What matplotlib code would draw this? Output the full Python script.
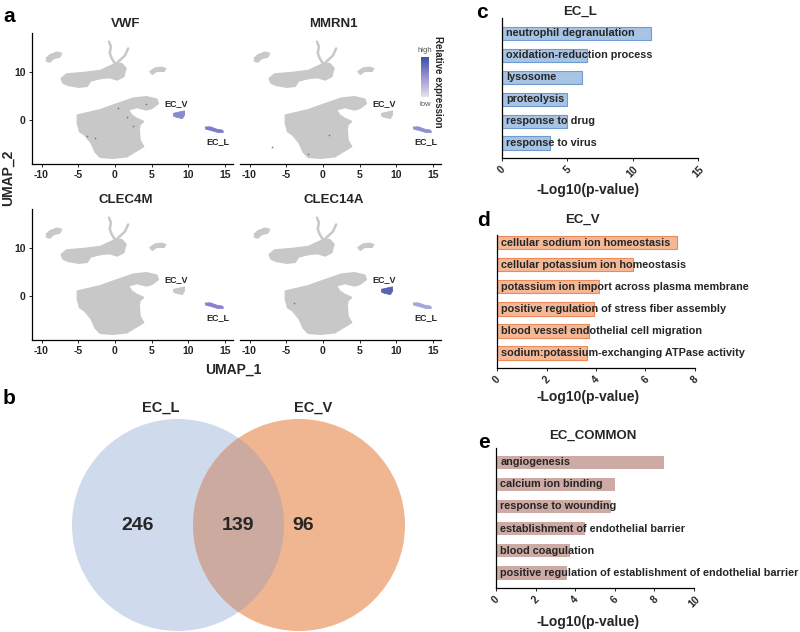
import matplotlib
matplotlib.use("Agg")
import matplotlib.pyplot as plt
import numpy as np
from matplotlib.patches import Polygon, Circle
from matplotlib.colors import LinearSegmentedColormap

plt.rcParams['font.family'] = ['Liberation Sans', 'DejaVu Sans']
plt.rcParams['font.weight'] = 'bold'
plt.rcParams['axes.linewidth'] = 0.9
plt.rcParams['axes.unicode_minus'] = False

W, H = 800, 632

# ---------------- data ----------------
# UMAP cluster outlines (data coords)
main_cluster = [(-5.1, 1.0), (-2.0, 2.1), (0.2, 3.3), (2.5, 4.5), (4.3, 4.8), (5.7, 4.3),
                (5.9, 3.4), (5.0, 2.4), (4.3, 2.1), (3.0, 2.6), (1.8, 2.1), (2.3, 1.0),
                (3.0, 0.3), (3.9, -0.3), (3.4, -1.0), (3.3, -2.1), (3.4, -4.1), (3.9, -5.5),
                (2.7, -6.6), (1.6, -7.6), (-0.2, -7.9), (-2.0, -7.7), (-2.7, -6.6),
                (-3.2, -4.8), (-4.1, -3.1), (-4.8, -2.4), (-5.1, -0.7)]
upper_cluster = [(-7.3, 8.6), (-6.6, 9.5), (-4.3, 9.8), (-2.0, 10.2), (-0.9, 11.0), (0.0, 11.6),
                 (0.9, 11.7), (1.5, 10.7), (1.2, 9.0), (0.3, 8.3), (-0.7, 8.8), (-2.0, 8.6),
                 (-3.3, 8.1), (-3.8, 7.0), (-4.9, 6.8), (-6.4, 7.2), (-7.1, 7.7)]
small_left = [(-9.3, 12.8), (-8.9, 13.4), (-8.0, 14.0), (-7.3, 13.8), (-7.5, 13.1),
              (-8.4, 12.7), (-8.9, 12.0), (-9.3, 12.2)]
small_right = [(4.8, 10.0), (5.45, 10.7), (6.4, 10.9), (6.9, 10.6), (6.7, 10.1), (5.7, 10.1), (5.1, 9.5)]
strand_up = [(-0.8, 16.2), (-0.55, 15.2), (-0.7, 13.8), (-0.45, 12.8), (0.0, 11.7)]
strand_diag = [(1.8, 14.8), (1.4, 13.4), (0.7, 12.4), (0.2, 11.7)]
ec_v_cluster = [(8.0, 1.4), (8.9, 1.7), (9.5, 1.9), (9.5, 1.0), (9.2, 0.3), (8.4, 0.55), (8.0, 0.8)]
ec_l_cluster = [(12.3, -1.45), (13.0, -1.4), (13.9, -1.9), (14.7, -2.1), (14.8, -2.55),
                (14.1, -2.6), (13.2, -2.2), (12.4, -1.9)]

genes = ['VWF', 'MMRN1', 'CLEC4M', 'CLEC14A']
# colour of EC_V and EC_L per gene
ec_v_color = ['#8A8ACC', '#C8C8C8', '#C8C8C8', '#5565B2']
ec_l_color = ['#7D7CCB', '#8F8FD2', '#8A80D0', '#A3A7DA']
# a few sparse expressing cells
stray_x = {'VWF': [0.45, 1.6, 2.5, -3.8, -2.7, 4.3], 'MMRN1': [-6.9, -2.0, 0.8], 'CLEC4M': [], 'CLEC14A': [-4.0]}
stray_y = {'VWF': [2.4, 0.55, -1.2, -3.3, -3.8, 3.3], 'MMRN1': [-5.5, -7.0, -3.0], 'CLEC4M': [], 'CLEC14A': [-1.5]}

# GO panels
go_c_terms = ['neutrophil degranulation', 'oxidation-reduction process', 'lysosome',
              'proteolysis', 'response to drug', 'response to virus']
go_c_vals = [11.4, 6.47, 6.09, 5.0, 4.94, 3.7]
go_d_terms = ['cellular sodium ion homeostasis', 'cellular potassium ion homeostasis',
              'potassium ion import across plasma membrane',
              'positive regulation of stress fiber assembly',
              'blood vessel endothelial cell migration',
              'sodium:potassium-exchanging ATPase activity']
go_d_vals = [7.27, 5.49, 4.14, 3.92, 3.70, 3.62]
go_e_terms = ['angiogenesis', 'calcium ion binding', 'response to wounding',
              'establishment of endothelial barrier', 'blood coagulation',
              'positive regulation of establishment of endothelial barrier']
go_e_vals = [8.5, 6.03, 5.83, 4.49, 3.76, 3.61]

venn_sets = ['EC_L', 'EC_V']
venn_counts = [246, 139, 96]

fig = plt.figure(figsize=(8, 6.32), dpi=100)


def px_axes(l, t, r, b):
    return fig.add_axes([l / W, 1 - b / H, (r - l) / W, (b - t) / H])


def ftext(x, y, s, **kw):
    fig.text(x / W, 1 - y / H, s, **kw)


grey = '#C8C8C8'
txt = '#262626'

# ---------------- panel a ----------------
umap_boxes = [(32, 33, 233, 164), (240, 33, 441, 164), (32, 209, 233, 340), (240, 209, 441, 340)]
for k, gene in enumerate(genes):
    ax = px_axes(*umap_boxes[k])
    for shape in [main_cluster, upper_cluster, small_left, small_right]:
        ax.add_patch(Polygon(shape, closed=True, facecolor=grey, edgecolor=grey, lw=1.2))
    for strand in [strand_up, strand_diag]:
        sx, sy = zip(*strand)
        ax.plot(sx, sy, color=grey, lw=1.8, solid_capstyle='round')
    ax.add_patch(Polygon(ec_v_cluster, closed=True, facecolor=ec_v_color[k],
                         edgecolor=ec_v_color[k], lw=0.6))
    ax.add_patch(Polygon(ec_l_cluster, closed=True, facecolor=ec_l_color[k],
                         edgecolor=ec_l_color[k], lw=0.6))
    ax.scatter(stray_x[gene], stray_y[gene], s=1.5, color='#7070C0', lw=0)
    ax.text(8.3, 3.3, 'EC_V', fontsize=6.5, ha='center', va='center', color=txt)
    ax.text(14.1, -4.5, 'EC_L', fontsize=6.5, ha='center', va='center', color=txt)
    ax.set_xlim(-11.3, 16.1)
    ax.set_ylim(-9.1, 18)
    ax.set_xticks([-10, -5, 0, 5, 10, 15])
    ax.spines['top'].set_visible(False)
    ax.spines['right'].set_visible(False)
    if k % 2 == 0:
        ax.set_yticks([0, 10])
    else:
        ax.set_yticks([])
        ax.spines['left'].set_visible(False)
    ax.tick_params(labelsize=7.5, length=2.5, width=0.7, pad=2, colors=txt)
    ax.set_facecolor('none')
    cx = (umap_boxes[k][0] + umap_boxes[k][2]) / 2 - 7
    ftext(cx, umap_boxes[k][1] - 9, gene, fontsize=9.5, ha='center', va='center', color=txt)

# colour bar
cax = px_axes(421, 57, 429, 97)
cmap = LinearSegmentedColormap.from_list('expr', ['#E2E2EA', '#9C93D2', '#3D50A6'])
cax.imshow(np.linspace(1, 0, 60).reshape(-1, 1), aspect='auto', cmap=cmap)
cax.set_xticks([])
cax.set_yticks([])
for s in cax.spines.values():
    s.set_visible(False)
ftext(425, 50, 'high', fontsize=5.5, weight='normal', ha='center', va='center', color='#555555')
ftext(425, 104, 'low', fontsize=5.5, weight='normal', ha='center', va='center', color='#555555')
ftext(438, 82, 'Relative expression', fontsize=7, rotation=-90, ha='center', va='center', color=txt)

ftext(233, 370, 'UMAP_1', fontsize=10, ha='center', va='center', color=txt)
ftext(8, 178, 'UMAP_2', fontsize=10, rotation=90, ha='center', va='center', color=txt)

# ---------------- panel b ----------------
axb = px_axes(0, 380, 470, 632)
axb.set_xlim(0, 470)
axb.set_ylim(632, 380)
axb.axis('off')
c_left = Circle((178, 525), 106, facecolor='#CFDBEC', edgecolor='none')
c_right = Circle((299, 525), 106, facecolor='#F0B591', edgecolor='none')
axb.add_patch(c_left)
axb.add_patch(c_right)
overlap = Circle((299, 525), 106, facecolor='#CDAAA0', edgecolor='none')
axb.add_patch(overlap)
overlap.set_clip_path(c_left)
axb.text(161, 408, venn_sets[0], fontsize=10.5, ha='center', va='center', color=txt)
axb.text(313, 408, venn_sets[1], fontsize=10.5, ha='center', va='center', color=txt)
for xpos, n in zip([138, 238, 303], venn_counts):
    axb.text(xpos, 525, str(n), fontsize=14, ha='center', va='center', color=txt)

# ---------------- panels c, d, e ----------------
go_panels = [
    dict(box=(502, 18, 698, 158), top=-0.7, terms=go_c_terms, vals=go_c_vals, xmax=15,
         ticks=[0, 5, 10, 15], face='#A7C4E5', edge='#6F9BD1', title='EC_L',
         title_xy=(580, 12), lab_y=190),
    dict(box=(497, 235, 695, 368), top=-0.35, terms=go_d_terms, vals=go_d_vals, xmax=8,
         ticks=[0, 2, 4, 6, 8], face='#F4B896', edge='#EB8A5A', title='EC_V',
         title_xy=(582, 220), lab_y=397),
    dict(box=(496, 448, 694, 588), top=-0.64, terms=go_e_terms, vals=go_e_vals, xmax=10,
         ticks=[0, 2, 4, 6, 8, 10], face='#CDAAA4', edge='none', title='EC_COMMON',
         title_xy=(593, 436), lab_y=622),
]
for p in go_panels:
    ax = px_axes(*p['box'])
    pos = np.arange(len(p['vals']))
    ax.barh(pos, p['vals'], height=0.6, color=p['face'], edgecolor=p['edge'], lw=0.8)
    for i, term in enumerate(p['terms']):
        ax.annotate(term, xy=(0, i), xytext=(3, 0), textcoords='offset points',
                    fontsize=7.8, ha='left', va='center', color=txt)
    ax.set_xlim(0, p['xmax'])
    ax.set_ylim(len(p['vals']) - 0.32, p['top'])
    ax.set_yticks([])
    ax.set_xticks(p['ticks'])
    for lbl in ax.get_xticklabels():
        lbl.set_rotation(45)
        lbl.set_ha('center')
        lbl.set_va('top')
    ax.spines['top'].set_visible(False)
    ax.spines['right'].set_visible(False)
    ax.tick_params(labelsize=7.5, length=2.5, width=0.7, pad=2, colors=txt)
    ax.set_facecolor('none')
    ftext(p['title_xy'][0], p['title_xy'][1], p['title'], fontsize=9.5, ha='center',
          va='center', color=txt)
    ftext(588, p['lab_y'], '-Log10(p-value)', fontsize=10, ha='center', va='center', color=txt)

# panel letters
for letter, (lx, ly) in zip('abcde', [(9, 16), (9, 398), (482, 13), (484, 220), (484, 442)]):
    ftext(lx, ly, letter, fontsize=15, ha='center', va='center', color='black')

fig.savefig('out.png', dpi=100, facecolor='white')
